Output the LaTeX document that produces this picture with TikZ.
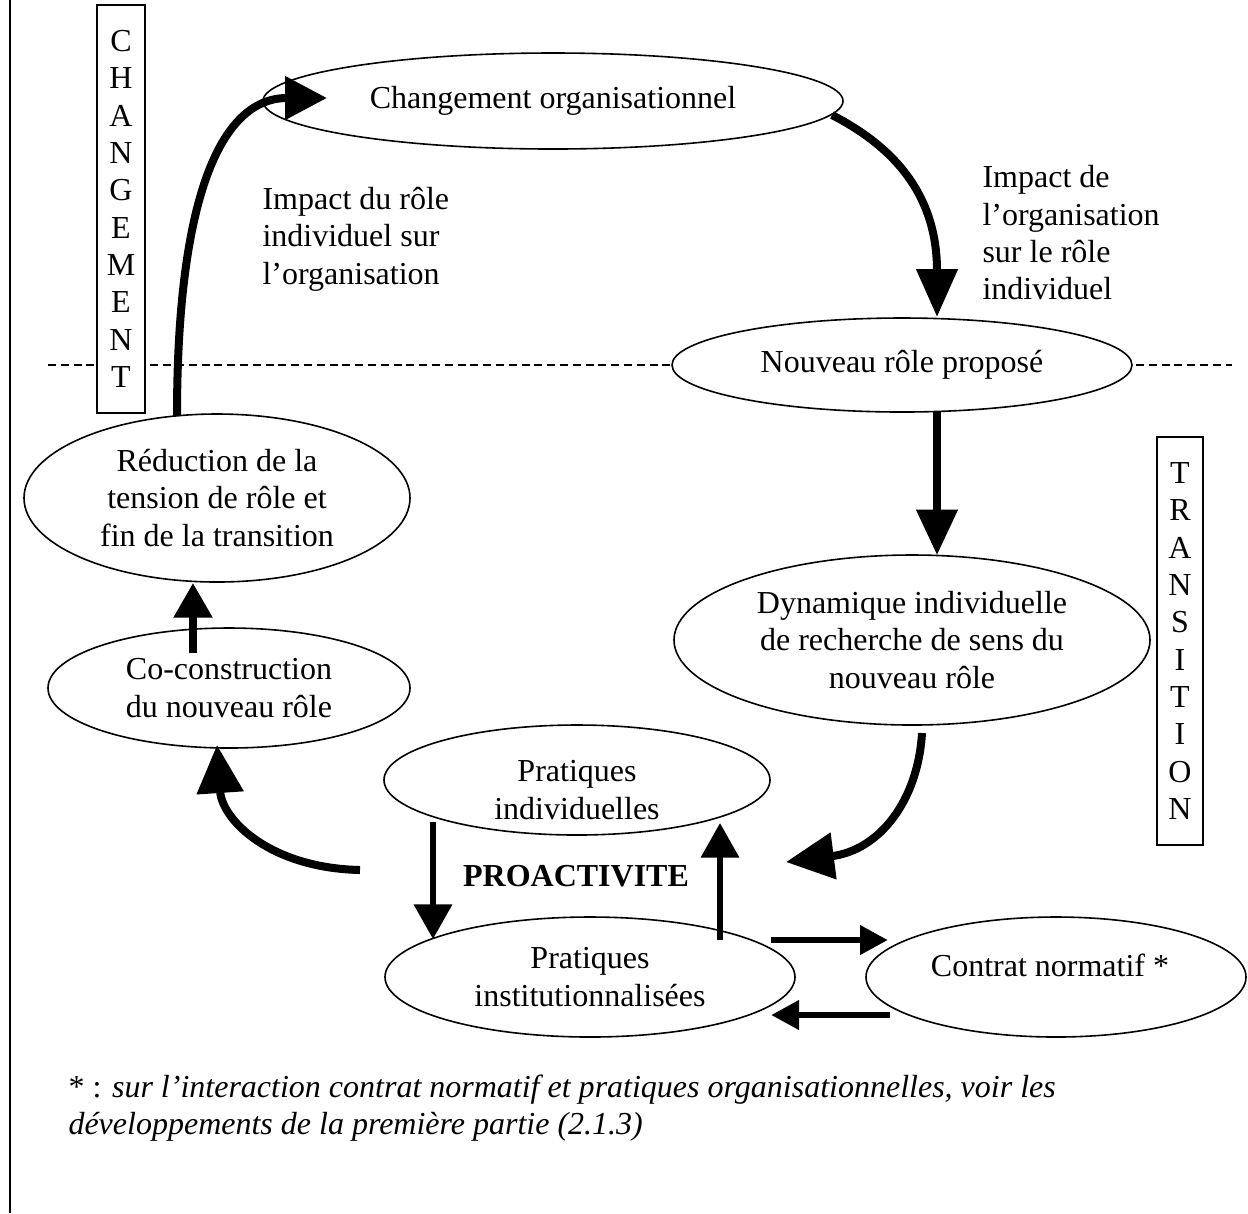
\documentclass[tikz,border=0pt]{standalone}
\usepackage{fontspec}
\setmainfont{Liberation Serif}
\usetikzlibrary{shapes.geometric,arrows.meta,calc}
\begin{document}
\begin{tikzpicture}[x=0.375pt,y=-0.375pt,
  every node/.style={font=\fontsize{12}{14}\selectfont},
  ell/.style={draw, ellipse, fill=white, line width=0.6pt, inner sep=0pt, align=center},
  lbox/.style={draw, rectangle, fill=white, line width=0.6pt, inner sep=0pt, align=center},
  curvearr/.style={line width=3pt, -{Triangle[length=#1, width=#1]}},
  straightarr/.style={line width=2.6pt, -{Triangle[length=#1, width=#1]}},
  thinarr/.style={line width=2.2pt, -{Triangle[length=13pt, width=14pt]}},
  lbl/.style={align=left, anchor=west, inner sep=0pt}
]
\useasboundingbox (0,0) rectangle (1248,1213);
% left border and dashed separator
\draw[line width=0.9pt] (10,0) -- (10,1213);
\draw[dash pattern=on 3pt off 1.8pt, line width=0.5pt] (48,365) -- (1232,365);

% ellipses
\node[ell, minimum width=217.5pt, minimum height=36pt] (chg) at (553,101) {Changement organisationnel};
\node[ell, minimum width=172.5pt, minimum height=35.25pt] (nrp) at (902,365) {Nouveau rôle proposé};
\node[ell, minimum width=178.5pt, minimum height=63.75pt] (dyn) at (912,640) {Dynamique individuelle\\de recherche de sens du\\nouveau rôle};
\node[ell, minimum width=144.75pt, minimum height=63pt] (red) at (217,498) {Réduction de la\\tension de rôle et\\fin de la transition};
\node[ell, minimum width=135.75pt, minimum height=45pt] (co) at (229,688) {Co-construction\\du nouveau rôle};
\node[ell, minimum width=144.75pt, minimum height=41.25pt] (pind) at (577,780) {};
\node (pindt) at (577,790) [align=center] {Pratiques\\individuelles};
\node[ell, minimum width=153.75pt, minimum height=45pt] (pinst) at (590,977) {Pratiques\\institutionnalisées};
\node[ell, minimum width=142.5pt, minimum height=45pt] (cn) at (1056,977) {};
\node (cnt) at (1050,965) {Contrat normatif *};
\node[font=\bfseries\fontsize{12}{14}\selectfont] (pro) at (576,876) {PROACTIVITE};

% vertical letter boxes
\node[lbox, minimum width=18pt, minimum height=153pt] (chgbox) at (121,209) {C\\H\\A\\N\\G\\E\\M\\E\\N\\T};
\node[lbox, minimum width=17.25pt, minimum height=153pt] (trbox) at (1180,641) {T\\R\\A\\N\\S\\I\\T\\I\\O\\N};

% labels
\node[lbl] (l1) at (262,239) {Impact du rôle\\individuel sur\\l’organisation};
\node[lbl] (l2) at (982,233) {Impact de\\l’organisation\\sur le rôle\\individuel};
\node[lbl] (fn) at (68,1108) {* : \textit{sur l’interaction contrat normatif et pratiques organisationnelles, voir les}\\\textit{développements de la première partie (2.1.3)}};

% free ends
\coordinate (c4) at (786,862);
\coordinate (c5) at (360,870);

% connectors
\draw[curvearr=15.75pt] ($(red.center)+(-40,-82)$) .. controls (177,200) and (220,98) .. ($(chg.center)+(-226,-3)$);
\draw[line width=3pt, -{Triangle[length=18pt, width=15pt]}] ($(chg.center)+(279,14)$) .. controls (900,150) and (937,200) .. ($(nrp.center)+(35,-48)$);
\draw[line width=2.8pt, -{Triangle[length=17pt, width=15pt]}] ($(nrp.center)+(35,47)$) -- ($(dyn.center)+(25,-85)$);
\draw[line width=3pt, -{Triangle[length=18pt, width=17pt]}] ($(dyn.center)+(10,93)$) .. controls (918,800) and (880,850) .. (c4);
\draw[line width=3pt, -{Triangle[length=18pt, width=17pt]}] (c5) .. controls (270,868) and (222,820) .. ($(co.center)+(-12,57)$);
\draw[thinarr] ($(pind.center)+(-144,42)$) -- ($(pinst.center)+(-157,-38)$);
\draw[thinarr] ($(pinst.center)+(130,-37)$) -- ($(pind.center)+(143,43)$);
\draw[straightarr=10.5pt] ($(pinst.center)+(181,-37)$) -- ($(cn.center)+(-168,-37)$);
\draw[straightarr=10.5pt] ($(cn.center)+(-166,38)$) -- ($(pinst.center)+(181,38)$);
\draw[line width=2.8pt, -{Triangle[length=13pt, width=14pt]}] ($(co.center)+(-36,-35)$) -- ($(red.center)+(-24,85)$);
\end{tikzpicture}
\end{document}
